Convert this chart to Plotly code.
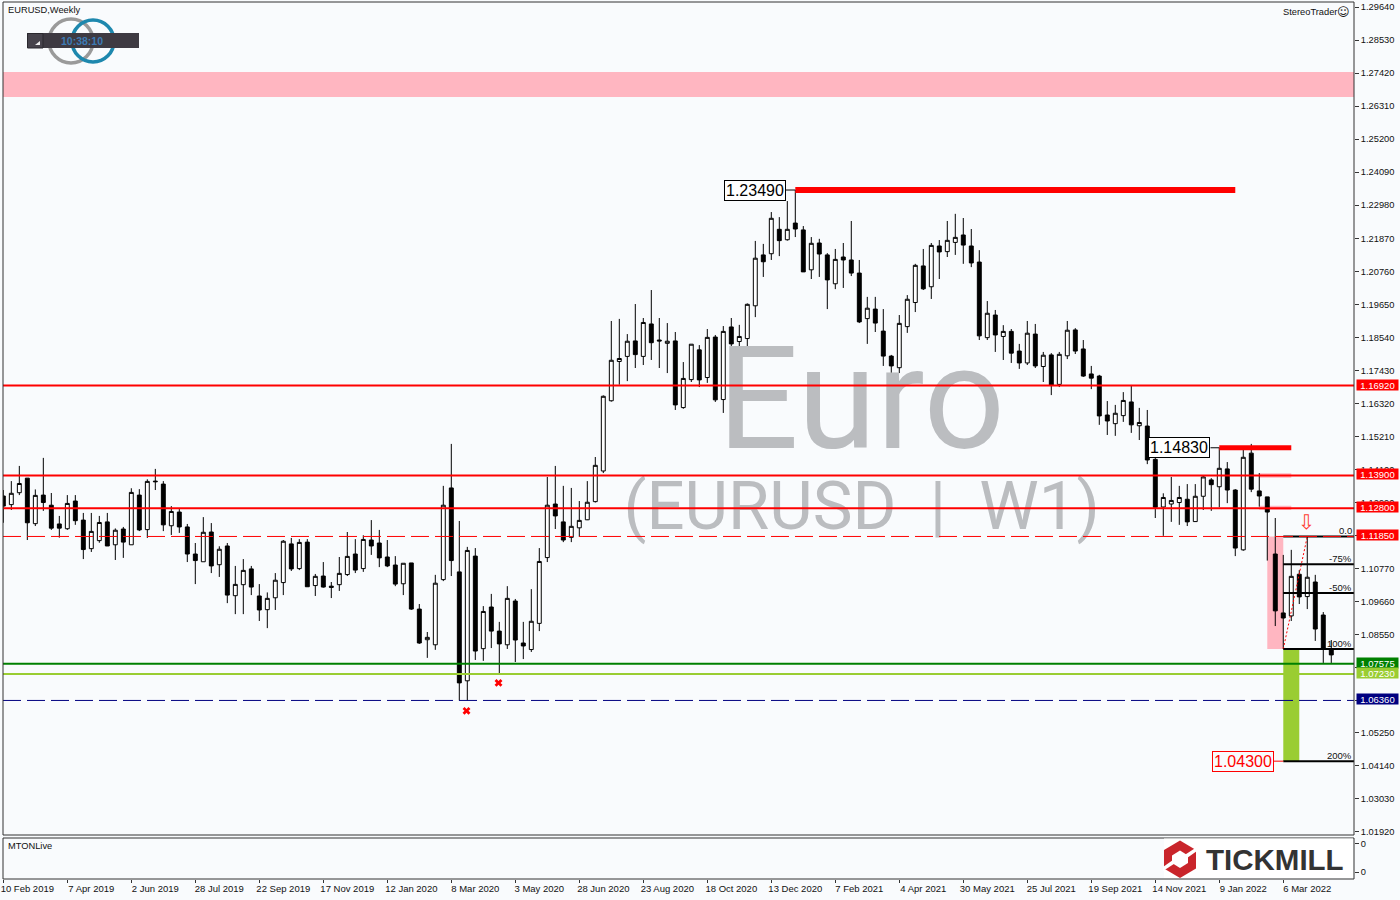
import plotly.graph_objects as go

opens = [1.1321,1.1292,1.1332,1.1381,1.1228,1.1324,1.1290,1.1227,1.1211,1.1304,
1.1240,1.1144,1.1171,1.1234,1.1157,1.1210,1.1157,1.1324,1.1208,1.1371,
1.1361,1.1221,1.1267,1.1217,1.1126,1.1100,1.1200,1.1090,1.1153,1.0986,
1.1023,1.1076,1.0985,1.0939,1.0979,1.1030,1.1160,1.1077,1.1166,1.1020,
1.1052,1.1018,1.1023,1.1057,1.1126,1.1077,1.1173,1.1163,1.1116,1.1089,
1.1026,1.1096,1.0941,1.0838,1.0821,1.1040,1.1348,1.1066,1.0700,1.1119,
1.0808,1.0948,1.0867,1.0821,1.0968,1.0827,1.0805,1.0893,1.1114,1.1294,
1.1234,1.1182,1.1214,1.1241,1.1302,1.1405,1.1641,1.1773,1.1790,1.1842,
1.1790,1.1899,1.1845,1.1834,1.1842,1.1618,1.1712,1.1812,1.1719,1.1855,
1.1645,1.1889,1.1840,1.1850,1.1960,1.2131,1.2135,1.2217,1.2182,1.2238,
1.2215,1.2081,1.2171,1.2131,1.2034,1.2124,1.2114,1.2070,1.1917,1.1949,
1.1875,1.1791,1.1752,1.1890,1.1971,1.2094,1.2024,1.2161,1.2142,1.2173,
1.2198,1.2161,1.2107,1.1853,1.1929,1.1857,1.1874,1.1808,1.1768,1.1865,
1.1756,1.1795,1.1696,1.1792,1.1879,1.1815,1.1731,1.1724,1.1593,1.1564,
1.1591,1.1637,1.1557,1.1556,1.1444,1.1284,1.1294,1.1299,1.1310,1.1235,
1.1320,1.1375,1.1352,1.1412,1.1341,1.1140,1.1465,1.1338,1.1318,1.1126,
1.0928,1.0918,1.1058,1.0983,1.1032,1.0921,1.0807]
highs = [1.1341,1.1371,1.1422,1.1381,1.1343,1.1449,1.1331,1.1254,1.1324,1.1324,
1.1264,1.1264,1.1254,1.1264,1.1212,1.1217,1.1347,1.1344,1.1377,1.1412,
1.1371,1.1287,1.1277,1.1227,1.1163,1.1250,1.1230,1.1152,1.1163,1.1086,
1.1109,1.1086,1.1025,1.0997,1.1062,1.1173,1.1180,1.1176,1.1176,1.1059,
1.1099,1.1032,1.1116,1.1200,1.1176,1.1189,1.1240,1.1207,1.1173,1.1119,
1.1095,1.1096,1.0958,1.0864,1.1056,1.1355,1.1496,1.1237,1.1150,1.1146,
1.0951,1.0992,1.0898,1.1018,1.0975,1.0898,1.1008,1.1146,1.1385,1.1422,
1.1355,1.1348,1.1304,1.1371,1.1452,1.1659,1.1909,1.1916,1.1865,1.1966,
1.1919,1.2013,1.1919,1.1902,1.1872,1.1771,1.1831,1.1828,1.1882,1.1862,
1.1892,1.1919,1.1896,1.1968,1.2178,1.2168,1.2275,1.2258,1.2312,1.2349,
1.2228,1.2191,1.2185,1.2137,1.2151,1.2171,1.2245,1.2114,1.1990,1.1990,
1.1949,1.1795,1.1929,1.1996,1.2101,1.2151,1.2171,1.2181,1.2245,1.2269,
1.2255,1.2218,1.2147,1.1976,1.1946,1.1895,1.1882,1.1832,1.1909,1.1899,
1.1805,1.1801,1.1805,1.1909,1.1885,1.1845,1.1758,1.1728,1.1640,1.1627,
1.1670,1.1694,1.1617,1.1610,1.1464,1.1330,1.1385,1.1355,1.1361,1.1361,
1.1388,1.1381,1.1483,1.1435,1.1344,1.1483,1.1496,1.1398,1.1318,1.1247,
1.1123,1.1140,1.1072,1.1185,1.1056,1.0931,1.0837]
lows = [1.1231,1.1274,1.1324,1.1173,1.1220,1.1271,1.1207,1.1181,1.1207,1.1224,
1.1109,1.1133,1.1164,1.1153,1.1106,1.1113,1.1157,1.1203,1.1180,1.1341,
1.1203,1.1190,1.1197,1.1099,1.1025,1.1100,1.1062,1.1049,1.0961,1.0924,
1.0924,1.0988,1.0901,1.0877,1.0938,1.0988,1.1069,1.1072,1.1016,1.0985,
1.1013,1.0978,1.1002,1.1052,1.1062,1.1066,1.1123,1.1082,1.1082,1.1018,
1.0988,1.0938,1.0824,1.0777,1.0804,1.1035,1.1052,1.0634,1.0634,1.0770,
1.0767,1.0810,1.0725,1.0807,1.0763,1.0773,1.0797,1.0867,1.1099,1.1210,
1.1166,1.1166,1.1184,1.1240,1.1299,1.1398,1.1638,1.1695,1.1707,1.1751,
1.1761,1.1778,1.1751,1.1734,1.1610,1.1614,1.1704,1.1687,1.1701,1.1637,
1.1600,1.1744,1.1812,1.1798,1.1922,1.2057,1.2114,1.2127,1.2179,1.2191,
1.2074,1.2050,1.2057,1.1949,1.2016,1.2020,1.2060,1.1902,1.1832,1.1872,
1.1758,1.1701,1.1734,1.1869,1.1939,1.2013,1.1983,1.2050,1.2124,1.2131,
1.2101,1.2090,1.1845,1.1845,1.1805,1.1778,1.1768,1.1748,1.1761,1.1751,
1.1704,1.1660,1.1687,1.1781,1.1798,1.1721,1.1680,1.1560,1.1526,1.1523,
1.1570,1.1533,1.1509,1.1428,1.1247,1.1187,1.1234,1.1224,1.1220,1.1234,
1.1274,1.1271,1.1283,1.1297,1.1119,1.1137,1.1334,1.1285,1.1104,1.0884,
1.0807,1.0901,1.0958,1.0941,1.0834,1.0760,1.0760]
closes = [1.1287,1.1330,1.1363,1.1231,1.1323,1.1299,1.1213,1.1213,1.1296,1.1238,
1.1141,1.1202,1.1232,1.1153,1.1206,1.1166,1.1333,1.1207,1.1370,1.1369,
1.1224,1.1269,1.1217,1.1126,1.1104,1.1199,1.1086,1.1142,1.0988,1.1024,
1.1071,1.1015,1.0938,1.0977,1.1038,1.1169,1.1076,1.1165,1.1016,1.1051,
1.1015,1.1014,1.1061,1.1118,1.1072,1.1175,1.1153,1.1113,1.1086,1.1025,
1.1095,1.0941,1.0827,1.0846,1.1028,1.1290,1.1104,1.0693,1.1138,1.0800,
1.0933,1.0867,1.0824,1.0977,1.0837,1.0817,1.0900,1.1101,1.1290,1.1254,
1.1173,1.1219,1.1239,1.1300,1.1424,1.1656,1.1777,1.1783,1.1841,1.1796,
1.1904,1.1836,1.1842,1.1841,1.1627,1.1716,1.1831,1.1711,1.1854,1.1644,
1.1874,1.1832,1.1857,1.1965,1.2120,1.2108,1.2254,1.2179,1.2217,1.2218,
1.2074,1.2170,1.2134,1.2047,1.2116,1.2114,1.2070,1.1906,1.1952,1.1902,
1.1791,1.1758,1.1901,1.1982,1.2096,1.2017,1.2163,1.2141,1.2180,1.2190,
1.2164,1.2104,1.1859,1.1935,1.1862,1.1874,1.1801,1.1768,1.1868,1.1758,
1.1794,1.1694,1.1797,1.1878,1.1808,1.1724,1.1717,1.1590,1.1573,1.1599,
1.1642,1.1560,1.1568,1.1442,1.1283,1.1316,1.1306,1.1316,1.1234,1.1320,
1.1385,1.1359,1.1414,1.1341,1.1146,1.1451,1.1344,1.1321,1.1267,1.0935,
1.0911,1.1051,1.0982,1.1048,1.0874,1.0807,1.0787]

date_ticks = [0,8,16,24,32,40,48,56,64,72,80,88,96,104,112,120,128,136,144,152,160]
date_labels = ["10 Feb 2019","7 Apr 2019","2 Jun 2019","28 Jul 2019","22 Sep 2019","17 Nov 2019",
               "12 Jan 2020","8 Mar 2020","3 May 2020","28 Jun 2020","23 Aug 2020","18 Oct 2020",
               "13 Dec 2020","7 Feb 2021","4 Apr 2021","30 May 2021","25 Jul 2021","19 Sep 2021",
               "14 Nov 2021","9 Jan 2022","6 Mar 2022"]
price_ticks = [1.2964,1.2853,1.2742,1.2631,1.2520,1.2409,1.2298,1.2187,1.2076,1.1965,1.1854,1.1743,
               1.1632,1.1521,1.1410,1.1299,1.1188,1.1077,1.0966,1.0855,1.0744,1.0635,1.0525,1.0414,1.0303,1.0192]

badge_levels = [1.1692,1.1390,1.1280,1.1185,1.07575,1.0723,1.0636]
badge_colors = ["#FF0000","#FF0000","#FF0000","#FF0000","#008000","#9ACD32","#000080"]
fib_levels = [1.1185,1.1092,1.0995,1.0807,1.0430]
fib_labels = ["0.0","-75%","-50%","100%","200%"]
cross_i = [57.9,61.9]
cross_p = [1.0599,1.0693]
fib_trend_i = [160,163]
fib_trend_p = [1.0807,1.1185]

BG = "#F9FBFD"
FONT = "Liberation Sans"
INK = "#111111"
WM = "#BBBDC0"

def X(px):
    return (px - 3) / 1351
def Y(py):
    return (879 - py) / 877

fig = go.Figure()

# watermark lies under the candles
fig.add_trace(go.Scatter(x=[107.25], y=[1.1603], mode="text", text=["Euro"], textposition="middle center",
                         textfont=dict(family="Roboto", size=143, color=WM), hoverinfo="skip", showlegend=False))
fig.add_trace(go.Scatter(x=[107.3], y=[1.1266], mode="text", text=["(EURUSD\u00a0\u00a0|\u00a0\u00a0W1)"], textposition="middle center",
                         textfont=dict(family="Roboto", size=67, color=WM), hoverinfo="skip", showlegend=False))

fig.add_trace(go.Candlestick(
    x=list(range(len(opens))), open=opens, high=highs, low=lows, close=closes,
    increasing=dict(line=dict(color="#000000", width=1), fillcolor="#FFFFFF"),
    decreasing=dict(line=dict(color="#000000", width=1), fillcolor="#000000"),
    whiskerwidth=0, hoverinfo="skip", showlegend=False))

fig.add_trace(go.Scatter(x=fib_trend_i, y=fib_trend_p, mode="lines",
                         line=dict(color="#FF0000", width=1, dash="2px,2px"), hoverinfo="skip", showlegend=False))
fig.add_trace(go.Scatter(x=cross_i, y=cross_p, mode="markers",
                         marker=dict(symbol="x", size=7, color="#FF0000", line=dict(width=0)),
                         hoverinfo="skip", showlegend=False))
fig.add_trace(go.Scatter(x=[0], y=[0], xaxis="x", yaxis="y2", mode="markers", marker=dict(opacity=0),
                         hoverinfo="skip", showlegend=False))

shapes = []
def band(x0, x1, y0, y1, color, layer="below"):
    shapes.append(dict(type="rect", xref="x", yref="y", x0=x0, x1=x1, y0=y0, y1=y1,
                       fillcolor=color, line=dict(width=0), layer=layer))
def hline(y, color, width, dash="solid"):
    shapes.append(dict(type="line", xref="paper", yref="y", x0=0, x1=1, y0=y, y1=y,
                       line=dict(color=color, width=width, dash=dash), layer="above"))
def seg(x0, x1, y, color, width):
    shapes.append(dict(type="line", xref="x", yref="y", x0=x0, x1=x1, y0=y, y1=y,
                       line=dict(color=color, width=width), layer="above"))

shapes.append(dict(type="rect", xref="paper", yref="y", x0=0, x1=1, y0=1.2662, y1=1.2746,
                   fillcolor="#FFB6C1", line=dict(width=0), layer="below"))
band(158, 160, 1.0807, 1.1185, "#FFB6C1")
band(157, 161, 1.1382, 1.1397, "#FFB6C1")
band(157, 161, 1.1274, 1.1288, "#FFB6C1")
band(160, 162, 1.0430, 1.0807, "#9ACD32", layer="above")

for lv in fib_levels:
    seg(160, 168.84, lv, "#000000", 2)

hline(1.1692, "#FF0000", 2)
hline(1.1390, "#FF0000", 2)
hline(1.1280, "#FF0000", 2)
hline(1.1185, "#FF0000", 1, "18px,6px")
hline(1.07575, "#008000", 2)
hline(1.0723, "#9ACD32", 2)
hline(1.0634, "#000080", 1, "18px,6px")

seg(99, 154, 1.2349, "#FF0000", 6)
seg(152, 161, 1.1483, "#FF0000", 5)
seg(97.84, 99, 1.2349, "#000000", 1)
seg(150.9, 152, 1.1483, "#000000", 1)
seg(158.8, 160, 1.0430, "#FF0000", 1)

# panel frames
for yr in ("y domain", "y2 domain"):
    shapes.append(dict(type="rect", xref="paper", yref=yr, x0=0, x1=1, y0=0, y1=1,
                       line=dict(color="#333333", width=1), fillcolor="rgba(0,0,0,0)", layer="above"))

# clock logo
def circ(cx, cy, r, color):
    shapes.append(dict(type="circle", xref="paper", yref="paper", x0=X(cx-r), x1=X(cx+r), y0=Y(cy+r), y1=Y(cy-r),
                       line=dict(color=color, width=3.5), fillcolor="rgba(0,0,0,0)", layer="above"))
def prect(x0, x1, y0, y1, color, line=None):
    shapes.append(dict(type="rect", xref="paper", yref="paper", x0=X(x0), x1=X(x1), y0=Y(y1), y1=Y(y0),
                       fillcolor=color, line=dict(color=line or color, width=1 if line else 0), layer="above"))
def poly(pts, color):
    d = "M " + " L ".join(f"{X(a):.5f},{Y(b):.5f}" for a, b in pts) + " Z"
    shapes.append(dict(type="path", xref="paper", yref="paper", path=d, fillcolor=color,
                       line=dict(width=0), layer="above"))
circ(71, 41, 22, "#9A9A9A")
circ(93, 41, 21, "#1E88AE")
prect(27, 139, 33, 48, "#3E3A42")
prect(27.5, 43, 33.5, 48, "#47434C", "#2A282E")
poly([(40, 45), (40, 41), (35, 45)], "#EEEEEE")

# Tickmill logo
prect(1164, 1353, 838.5, 878, "#FFFFFF")
poly([(1180, 840.5), (1196, 850), (1196, 868.5), (1180, 878), (1164, 868.5), (1164, 850)], "#C9252B")
poly([(1180, 850.5), (1188, 855.5), (1188, 863), (1180, 868), (1172, 863), (1172, 855.5)], "#FFFFFF")
poly([(1183, 856), (1197, 847), (1197, 851), (1187, 858)], "#FFFFFF")
poly([(1177, 862), (1163, 871), (1163, 867), (1173, 860)], "#FFFFFF")

ann = []
def text(px, py, s, anchor="left", size=9.3, color=INK, family=FONT):
    ann.append(dict(xref="paper", yref="paper", x=X(px), y=Y(py), text=s, showarrow=False, xanchor=anchor,
                    yanchor="middle", font=dict(family=family, size=size, color=color), borderpad=0))

text(7, 10, "EURUSD,Weekly")
text(1282, 12, "StereoTrader")
text(1343.5, 12, "☺", anchor="center", size=12, family="DejaVu Sans")
text(82, 40.5, "<b>10:38:10</b>", anchor="center", size=10.5, color="#3D7BB4")
text(7, 846, "MTONLive")
text(1205, 859, "<b>TICKMILL</b>", size=29.5, color="#333333")

for lv, c in zip(badge_levels, badge_colors):
    ann.append(dict(xref="paper", yref="y", x=1, y=lv, xanchor="left", xshift=1.5, yshift=1, text=f"{lv:.5f}", showarrow=False,
                    width=41, height=10, align="center", bgcolor=c, borderpad=0,
                    font=dict(family=FONT, size=9.5, color="#FFFFFF")))
for lv, s in zip(fib_levels, fib_labels):
    ann.append(dict(xref="paper", yref="y", x=1, y=lv, xanchor="right", yanchor="bottom", xshift=-1, yshift=-1,
                    text=s, showarrow=False, borderpad=0, font=dict(family=FONT, size=9.5, color=INK)))

def price_box(i, p, s, color, bg):
    ann.append(dict(xref="x", yref="y", x=i, y=p, xanchor="right", text=s, showarrow=False,
                    bordercolor=color, borderwidth=1, borderpad=1, bgcolor=bg,
                    font=dict(family=FONT, size=16, color=color)))
price_box(97.84, 1.2349, "1.23490", "#000000", "#FFFFFF")
price_box(150.9, 1.1483, "1.14830", "#000000", "#FFFFFF")
price_box(158.8, 1.0430, "1.04300", "#FF0000", BG)

ann.append(dict(xref="x", yref="y", x=162.9, y=1.1235, text="⇩", showarrow=False,
                font=dict(family="DejaVu Sans", size=20, color="#FF3B30")))

fig.update_layout(
    width=1400, height=900, autosize=False,
    margin=dict(l=3, r=46, t=2, b=21, pad=0),
    paper_bgcolor=BG, plot_bgcolor=BG, showlegend=False, boxgap=0.3,
    shapes=shapes, annotations=ann,
    xaxis=dict(range=[-0.04, 168.84], anchor="y2", tickmode="array", tickvals=date_ticks, ticktext=date_labels,
               ticks="outside", ticklen=3, tickcolor="#333333", showgrid=False, zeroline=False,
               rangeslider=dict(visible=False), tickangle=0, ticklabelshift=24, ticklabelstandoff=-2,
               tickfont=dict(family=FONT, size=9.5, color=INK)),
    yaxis=dict(domain=[0.05017, 1], range=[1.01819, 1.29808], side="right", anchor="x", tickmode="array",
               tickvals=price_ticks, ticktext=[f"{v:.5f}" for v in price_ticks],
               ticks="outside", ticklen=4, tickcolor="#333333", showgrid=False, zeroline=False,
               tickfont=dict(family=FONT, size=9.3, color=INK)),
    yaxis2=dict(domain=[0, 0.04675], range=[-0.25, 1.214], side="right", anchor="x", tickmode="array",
                tickvals=[0, 1], ticktext=["0", "0"], ticks="outside", ticklen=4, tickcolor="#333333",
                showgrid=False, zeroline=False, tickfont=dict(family=FONT, size=9.3, color=INK)),
)

fig.write_html("out.html", config=dict(displayModeBar=False),
               post_script="document.body.style.margin='0';document.body.style.overflow='hidden';")
